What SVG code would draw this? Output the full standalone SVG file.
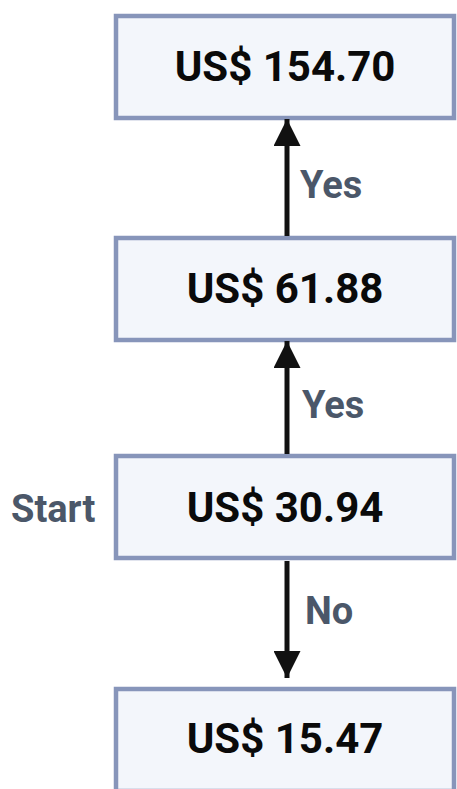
<svg xmlns="http://www.w3.org/2000/svg" width="457" height="789" viewBox="0 0 457 789">
<style>
.box{fill:#F3F6FB;stroke:#8795BA;stroke-width:4.5}
.val{font-family:Roboto,"Liberation Sans",sans-serif;font-weight:bold;font-size:42px;fill:#0A0A0A;text-anchor:middle}
.lbl{font-family:Roboto,"Liberation Sans",sans-serif;font-weight:bold;font-size:38px;fill:#4B5769}
.edge{stroke:#111;stroke-width:5;fill:none}
</style>
<defs>
<marker id="ah" viewBox="0 0 10 10" refX="10" refY="5" markerWidth="5.4" markerHeight="5.4" markerUnits="strokeWidth" orient="auto">
<path d="M0,0 L10,5 L0,10 Z" fill="#111"/>
</marker>
</defs>
<rect width="457" height="789" fill="#fff"/>
<g id="n1"><rect class="box" x="116" y="16" width="338" height="102"/><text class="val" x="285" y="81">US$ 154.70</text></g>
<g id="n2"><rect class="box" x="116" y="238" width="338" height="102"/><text class="val" x="285" y="303">US$ 61.88</text></g>
<g id="n3"><rect class="box" x="116" y="456" width="338" height="102"/><text class="val" x="285" y="522">US$ 30.94</text></g>
<g id="n4"><rect class="box" x="116" y="689" width="338" height="102"/><text class="val" x="285" y="753">US$ 15.47</text></g>
<g id="start"><text class="lbl" x="11" y="522">Start</text></g>
<g id="edges">
<line class="edge" x1="287" y1="236" x2="287" y2="119" marker-end="url(#ah)"/>
<line class="edge" x1="287" y1="454" x2="287" y2="341" marker-end="url(#ah)"/>
<line class="edge" x1="287" y1="561" x2="287" y2="678" marker-end="url(#ah)"/>
<text class="lbl" x="300" y="198">Yes</text>
<text class="lbl" x="302" y="418">Yes</text>
<text class="lbl" x="305" y="624">No</text>
</g>
</svg>
